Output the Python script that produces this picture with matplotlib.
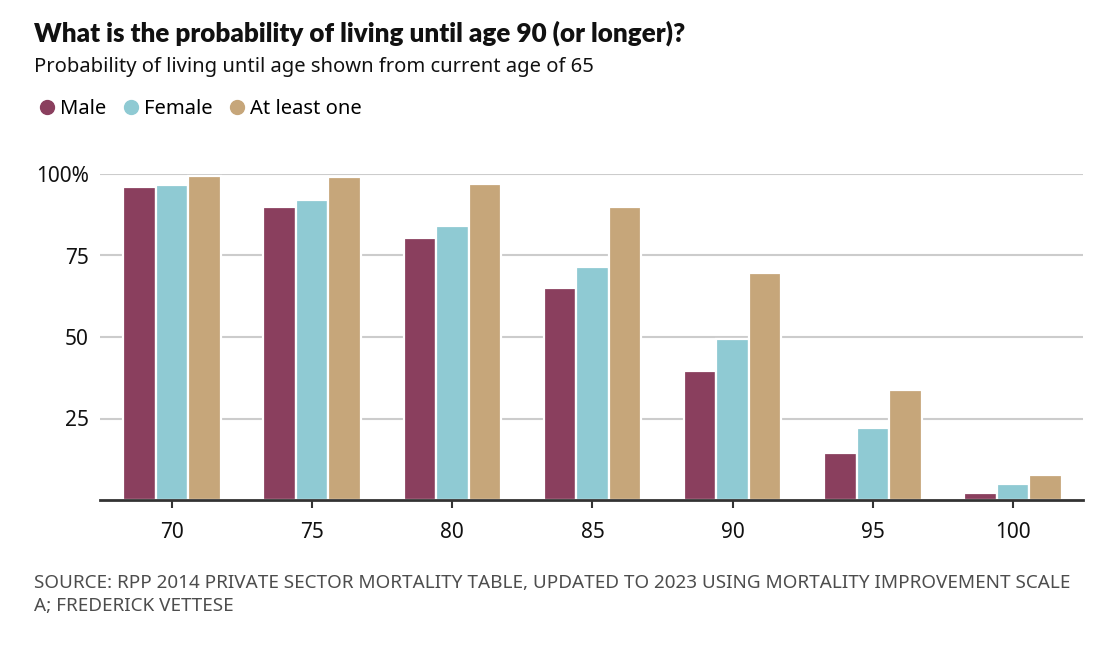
import numpy as np
import matplotlib
matplotlib.use('Agg')
import matplotlib.pyplot as plt
from matplotlib.lines import Line2D

# data
ages = ['70', '75', '80', '85', '90', '95', '100']
male = [96, 90, 80.5, 65, 39.5, 14.5, 2.2]
female = [96.5, 92, 84, 71.5, 49.5, 22, 5]
at_least_one = [99.5, 99, 96.8, 89.8, 69.7, 33.8, 7.8]
series_names = ['Male', 'Female', 'At least one']
colors = ['#8a3f5e', '#8fcad3', '#c6a67a']
yticks = [25, 50, 75, 100]
ytick_labels = ['25', '50', '75', '100%']

plt.rcParams['font.family'] = ['Noto Sans', 'DejaVu Sans']

W, H = 1107, 647
fig = plt.figure(figsize=(W / 100, H / 100), dpi=100)
ax = fig.add_axes([100 / W, 1 - 500 / H, 983 / W, 326 / H])

x = np.arange(len(ages))
bw = 0.232
for i, (vals, c) in enumerate(zip([male, female, at_least_one], colors)):
    ax.bar(x + (i - 1) * bw, vals, width=bw, color=c, edgecolor='white',
           linewidth=1.6, zorder=3)

ax.set_xlim(-0.514, 6.5)
ax.set_ylim(0, 100)
ax.set_yticks(yticks)
ax.set_yticklabels(ytick_labels)
ax.set_xticks(x)
ax.set_xticklabels(ages)
ax.yaxis.grid(True, color='#cccccc', linewidth=1.5, zorder=0)
ax.set_axisbelow(True)
for s in ['top', 'right', 'left']:
    ax.spines[s].set_visible(False)
ax.spines['bottom'].set_color('#333333')
ax.spines['bottom'].set_linewidth(2)
ax.spines['bottom'].set_zorder(4)
ax.tick_params(axis='y', length=0, pad=8, labelsize=15, labelcolor='#111111')
ax.tick_params(axis='x', length=6, width=1.5, color='#333333', pad=10,
               labelsize=15, labelcolor='#111111')

fig.text(34 / W, 1 - 42 / H, 'What is the probability of living until age 90 (or longer)?',
         family=['Lato', 'DejaVu Sans'], fontsize=18.7, fontweight='heavy',
         color='#111111', va='baseline')
fig.text(34 / W, 1 - 72 / H, 'Probability of living until age shown from current age of 65',
         fontsize=14.5, color='#111111', va='baseline')

handles = [Line2D([], [], marker='o', linestyle='none', markersize=10,
                  markerfacecolor=c, markeredgecolor=c) for c in colors]
fig.legend(handles, series_names, loc='center left',
           bbox_to_anchor=(27 / W, 1 - 109 / H), ncol=3, frameon=False,
           fontsize=14.5, handletextpad=0.05, columnspacing=0.6,
           handlelength=1.2, borderaxespad=0)

source = ['SOURCE: RPP 2014 PRIVATE SECTOR MORTALITY TABLE, UPDATED TO 2023 USING MORTALITY IMPROVEMENT SCALE',
          'A; FREDERICK VETTESE']
for k, line in enumerate(source):
    fig.text(34 / W, 1 - (588 + 23 * k) / H, line,
             fontsize=13.6, color='#4d4d4d', va='baseline')

fig.savefig('out.png', dpi=100)
